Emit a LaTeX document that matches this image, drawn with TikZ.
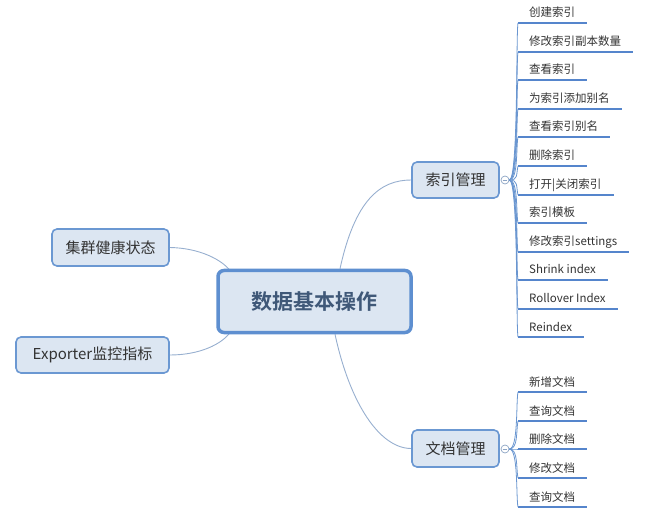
\documentclass[tikz,border=0pt]{standalone}
\usepackage{fontspec}
\setmainfont{Noto Sans CJK SC}[BoldFont={Noto Sans CJK SC Bold}]
\usetikzlibrary{backgrounds}
\definecolor{nodefill}{HTML}{DCE6F2}
\definecolor{nodeborder}{HTML}{6B98D2}
\definecolor{ctrborder}{HTML}{5E8FD0}
\definecolor{ulcolor}{HTML}{5585CC}
\definecolor{leafline}{HTML}{6A96D0}
\definecolor{mainline}{HTML}{97AFCF}
\definecolor{txt}{HTML}{333333}
\definecolor{ctrtxt}{HTML}{3F5878}
\definecolor{colborder}{HTML}{8CA4C4}
\begin{document}
\begin{tikzpicture}[x=1pt,y=-1pt,
  ctrbox/.style={draw=ctrborder,fill=nodefill,line width=3.5pt,rounded corners=6pt,
    minimum width=193pt,minimum height=62pt,inner sep=0pt,text=ctrtxt,
    font=\fontsize{21}{24}\selectfont\bfseries},
  branchbox/.style={draw=nodeborder,fill=nodefill,line width=1.6pt,rounded corners=5pt,
    inner sep=0pt,text=txt,font=\fontsize{15}{18}\selectfont},
  leafbox/.style={anchor=base west,inner xsep=11pt,inner ysep=0pt,text=txt,
    font=\fontsize{11.5}{13}\selectfont},
  ulline/.style={draw=ulcolor,line width=2.8pt},
  leafconn/.style={draw=leafline,line width=0.8pt},
  mainconn/.style={draw=mainline,line width=0.9pt},
  collapse/.style={circle,draw=colborder,fill=white,line width=0.7pt,minimum size=8pt,inner sep=0pt}
]
\useasboundingbox (0,0) rectangle (650,510);

\node[ctrbox] (ctr) at (314.5,301.5) {数据基本操作};
\node[branchbox,minimum width=117pt,minimum height=37pt] (jq) at (110.5,247.5) {集群健康状态};
\node[branchbox,minimum width=153pt,minimum height=36pt] (ex) at (92.5,355) {Exporter监控指标};
\node[branchbox,minimum width=87pt,minimum height=36pt] (sy) at (455.5,180) {索引管理};
\node[branchbox,minimum width=87pt,minimum height=37pt] (wd) at (455.5,448.5) {文档管理};

\node[collapse] (c1) at (505,180) {};
\draw[colborder,line width=0.7pt] ([xshift=2pt]c1.west) -- ([xshift=-2pt]c1.east);
\node[collapse] (c2) at (505,449) {};
\draw[colborder,line width=0.7pt] ([xshift=2pt]c2.west) -- ([xshift=-2pt]c2.east);

\begin{pgfonlayer}{background}
  \draw[mainconn] ([xshift=25.5pt]ctr.north) .. controls (355,200) and (380,180) .. (sy.west);
  \draw[mainconn] ([xshift=20.5pt]ctr.south) .. controls (350,404) and (380,448.5) .. (wd.west);
  \draw[mainconn] (jq.east) .. controls (200,248) and (222,260) .. ([xshift=14pt,yshift=-2pt]ctr.north west);
  \draw[mainconn] (ex.east) .. controls (200,355) and (222,344) .. ([xshift=14pt,yshift=2pt]ctr.south west);
\end{pgfonlayer}

\foreach \i/\y/\t in {1/23/创建索引,2/52/修改索引副本数量,3/80/查看索引,4/109/为索引添加别名,
  5/137/查看索引别名,6/166/删除索引,7/195/打开|关闭索引,8/223/索引模板,
  9/252/修改索引settings,10/280/Shrink index,11/309/Rollover Index,12/337/Reindex}{
  \node[leafbox] (a\i) at (518,{\y-6}) {\t};
  \draw[ulline] ([yshift=-6pt]a\i.base west) -- ([yshift=-6pt,xshift=1pt]a\i.base east);
  \pgfmathsetmacro\s{9*sign(180-\y)}
  \draw[leafconn] (c1.east) .. controls +(9,0) and +(-2,\s) .. ([yshift=-6pt]a\i.base west);
}

\foreach \i/\y/\t in {1/392/新增文档,2/421/查询文档,3/449/删除文档,4/478/修改文档,5/507/查询文档}{
  \node[leafbox] (b\i) at (518,{\y-6}) {\t};
  \draw[ulline] ([yshift=-6pt]b\i.base west) -- ([yshift=-6pt,xshift=1pt]b\i.base east);
  \pgfmathsetmacro\s{9*sign(449-\y)}
  \draw[leafconn] (c2.east) .. controls +(9,0) and +(-2,\s) .. ([yshift=-6pt]b\i.base west);
}
\end{tikzpicture}
\end{document}
